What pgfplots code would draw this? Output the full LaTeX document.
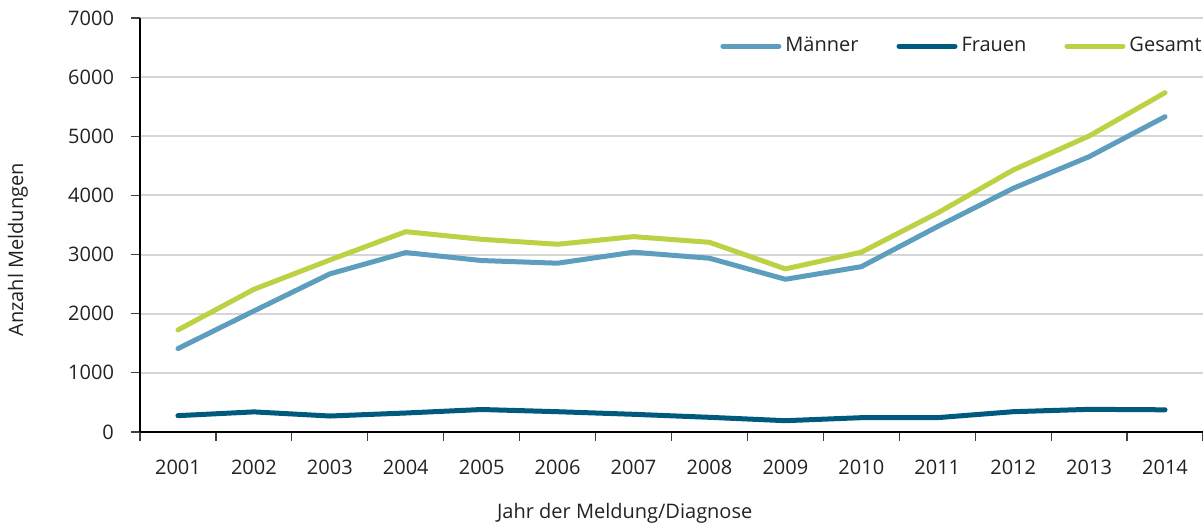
\documentclass[border=0pt]{standalone}
\usepackage{pgfplots}
\pgfplotsset{compat=1.18}
\usepackage{fontspec}
\setmainfont{Open Sans}
\definecolor{maenner}{RGB}{93,158,190}
\definecolor{frauen}{RGB}{0,90,125}
\definecolor{gesamt}{RGB}{190,208,67}
\definecolor{gridgray}{RGB}{214,214,214}
\definecolor{txt}{RGB}{34,34,34}
\begin{document}
\begin{tikzpicture}
\begin{axis}[
  scale only axis,
  width=531.5pt, height=207pt,
  xmin=-0.5, xmax=13.5,
  ymin=0, ymax=7000,
  axis x line*=bottom, axis y line*=left,
  axis line style={black, line width=0.6pt, -},
  xtick={0,...,13},
  xticklabels={2001,2002,2003,2004,2005,2006,2007,2008,2009,2010,2011,2012,2013,2014},
  major x tick style={draw=none},
  minor xtick={-0.5,0.5,...,13.5},
  minor x tick style={black!75, line width=0.6pt},
  minor tick length=4.5pt,
  xticklabel style={yshift=-6pt},
  ytick={0,1000,...,7000},
  ytick style={black!75, line width=0.6pt},
  major tick length=4.5pt,
  tick align=outside,
  yticklabel style={xshift=-5pt},
  ymajorgrids,
  grid style={gridgray, line width=1pt},
  tick label style={font=\fontsize{10}{12}\selectfont, text=txt},
  /pgf/number format/assume math mode=true,
  /pgf/number format/1000 sep={},
  xlabel={Jahr der Meldung/Diagnose},
  ylabel={Anzahl Meldungen},
  label style={font=\fontsize{10}{12}\selectfont, text=txt},
  xlabel style={at={(rel axis cs:0.456,0)}, anchor=center, yshift=-40.5pt},
  ylabel style={at={(rel axis cs:0,0.44)}, anchor=center, yshift=61pt},
  legend columns=3,
  legend style={at={(rel axis cs:1,1)}, anchor=north east, draw=none, fill=none,
    font=\fontsize{10}{12}\selectfont, text=txt, yshift=-5.5pt, xshift=4.5pt,
    /tikz/every even column/.append style={column sep=17pt}},
  legend cell align=left,
  legend image code/.code={\draw[#1, line width=2.5pt, line cap=round] (0pt,0pt) -- (28pt,0pt);},
  every axis plot/.append style={line width=2.5pt, line cap=round, line join=round, mark=none},
  clip=false,
]
\addplot[color=maenner] coordinates {(0,1410) (1,2046) (2,2673) (3,3034) (4,2899) (5,2854) (6,3040) (7,2938) (8,2582) (9,2795) (10,3471) (11,4120) (12,4655) (13,5331)};
\addlegendentry{Männer}
\addplot[color=frauen] coordinates {(0,276) (1,340) (2,270) (3,321) (4,380) (5,343) (6,299) (7,248) (8,191) (9,242) (10,242) (11,343) (12,383) (13,375)};
\addlegendentry{Frauen}
\addplot[color=gesamt] coordinates {(0,1725) (1,2412) (2,2908) (3,3387) (4,3258) (5,3174) (6,3303) (7,3207) (8,2758) (9,3040) (10,3700) (11,4430) (12,5005) (13,5737)};
\addlegendentry{Gesamt}
\coordinate (O) at (rel axis cs:0,0);
\coordinate (T) at (rel axis cs:1,1);
\end{axis}
\pgfresetboundingbox
\path ([xshift=-70pt,yshift=-47pt]O) rectangle ([yshift=9pt]T);
\end{tikzpicture}
\end{document}
